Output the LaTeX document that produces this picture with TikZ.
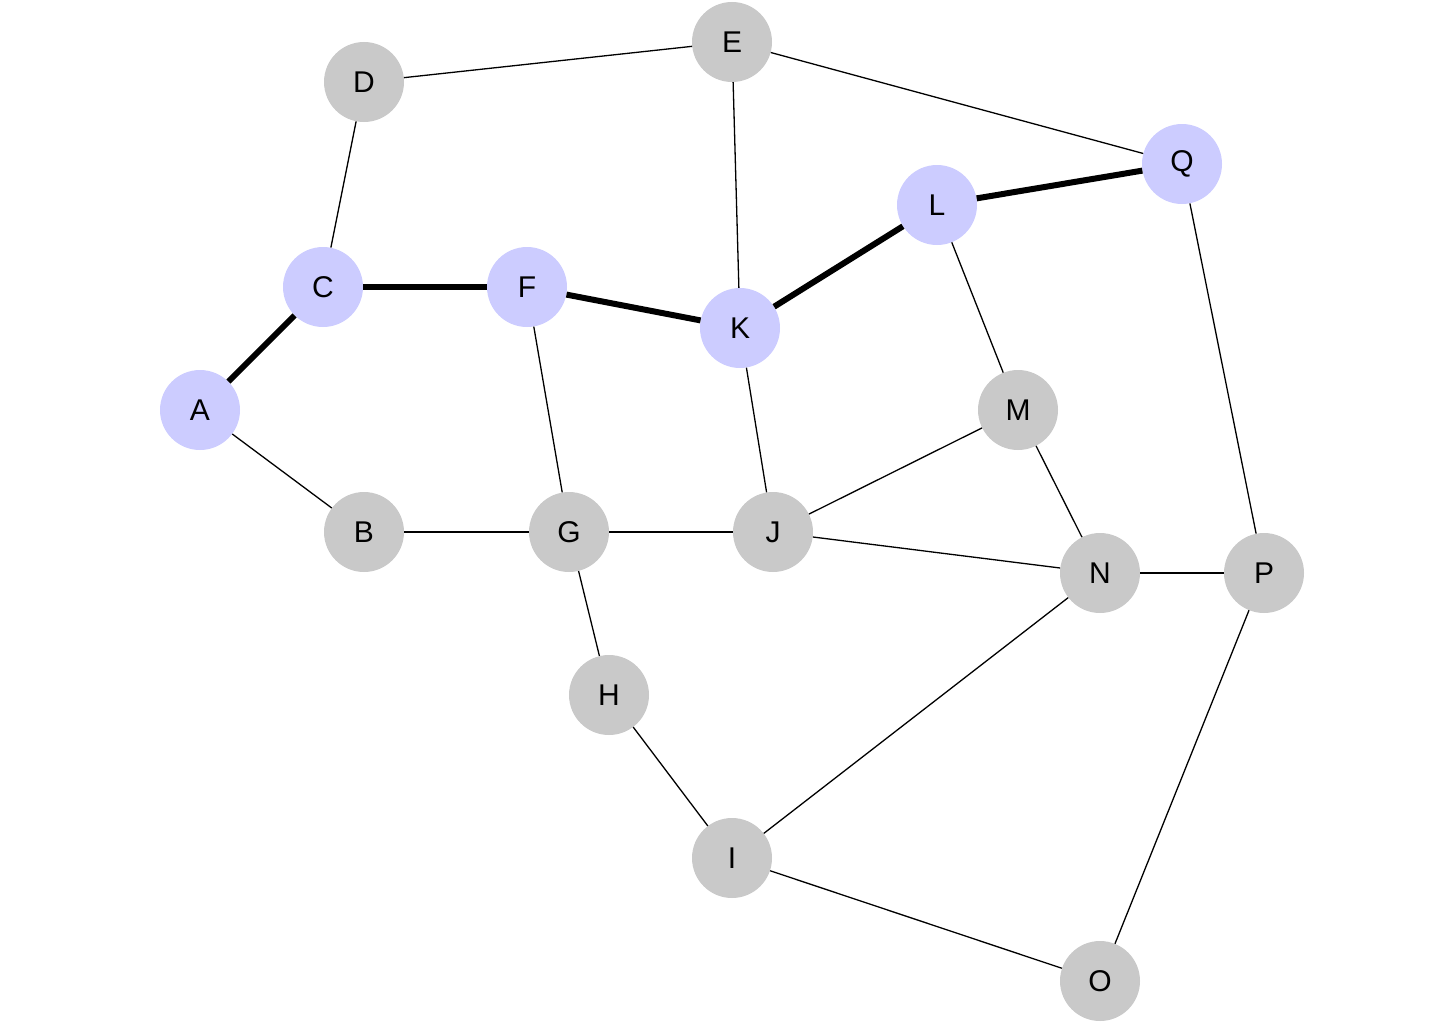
\documentclass[tikz,border=0pt]{standalone}
\usepackage{fontspec}
\setmainfont{Liberation Sans}
\definecolor{nodegray}{HTML}{C9C9C9}
\definecolor{nodeblue}{HTML}{CCCCFF}
\begin{document}
\begin{tikzpicture}[x=1pt,y=-1pt,
  vtx/.style={circle,fill=nodegray,minimum size=80pt,inner sep=0pt,font=\fontsize{30}{30}\selectfont},
  path/.style={vtx,fill=nodeblue},
  edge/.style={line width=1.3pt},
  hot/.style={line width=6pt}]
\useasboundingbox (0,0) rectangle (1456,1033);
\node[path] (A) at (200,410) {A};
\node[vtx]  (B) at (364,532) {B};
\node[path] (C) at (323,287) {C};
\node[vtx]  (D) at (364,82) {D};
\node[vtx]  (E) at (732,42) {E};
\node[path] (F) at (527,287) {F};
\node[vtx]  (G) at (569,532) {G};
\node[vtx]  (H) at (609,695) {H};
\node[vtx]  (I) at (732,858) {I};
\node[vtx]  (J) at (773,532) {J};
\node[path] (K) at (740,328) {K};
\node[path] (L) at (937,205) {L};
\node[vtx]  (M) at (1018,410) {M};
\node[vtx]  (N) at (1100,573) {N};
\node[vtx]  (O) at (1100,981) {O};
\node[vtx]  (P) at (1264,573) {P};
\node[path] (Q) at (1182,164) {Q};
\draw[hot] (A) -- (C);
\draw[hot] (C) -- (F);
\draw[hot] (F) -- (K);
\draw[hot] (K) -- (L);
\draw[hot] (L) -- (Q);
\draw[edge] (A) -- (B);
\draw[edge] (C) -- (D);
\draw[edge] (D) -- (E);
\draw[edge] (E) -- (K);
\draw[edge] (E) -- (Q);
\draw[edge] (F) -- (G);
\draw[edge] (K) -- (J);
\draw[edge] (L) -- (M);
\draw[edge] (M) -- (J);
\draw[edge] (M) -- (N);
\draw[edge] (B) -- (G);
\draw[edge] (G) -- (J);
\draw[edge] (G) -- (H);
\draw[edge] (J) -- (N);
\draw[edge] (N) -- (P);
\draw[edge] (Q) -- (P);
\draw[edge] (H) -- (I);
\draw[edge] (I) -- (N);
\draw[edge] (I) -- (O);
\draw[edge] (P) -- (O);
\end{tikzpicture}
\end{document}
